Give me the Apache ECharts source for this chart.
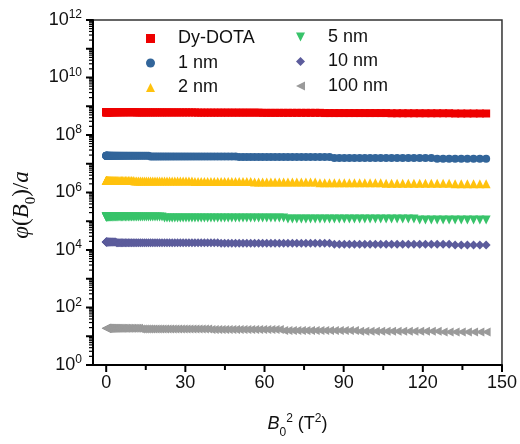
<!DOCTYPE html>
<html>
<head>
<meta charset="utf-8">
<script src="https://cdn.jsdelivr.net/npm/echarts@6/dist/echarts.min.js"></script>
<style>
  html, body { margin: 0; padding: 0; background: #fff; }
  #chart { width: 520px; height: 444px; }
</style>
</head>
<body>
<div id="chart"></div>
<script>
// B0^2 (T^2) sample points, field stepped 0.1 T from 0 to 12 T
const b0Squared = [
  0, 0.01, 0.04, 0.09, 0.16, 0.25, 0.36, 0.49, 0.64, 0.81, 1,
  1.21, 1.44, 1.69, 1.96, 2.25, 2.56, 2.89, 3.24, 3.61, 4, 4.41,
  4.84, 5.29, 5.76, 6.25, 6.76, 7.29, 7.84, 8.41, 9, 9.61, 10.24,
  10.89, 11.56, 12.25, 12.96, 13.69, 14.44, 15.21, 16, 16.81, 17.64,
  18.49, 19.36, 20.25, 21.16, 22.09, 23.04, 24.01, 25, 26.01, 27.04,
  28.09, 29.16, 30.25, 31.36, 32.49, 33.64, 34.81, 36, 37.21, 38.44,
  39.69, 40.96, 42.25, 43.56, 44.89, 46.24, 47.61, 49, 50.41, 51.84,
  53.29, 54.76, 56.25, 57.76, 59.29, 60.84, 62.41, 64, 65.61, 67.24,
  68.89, 70.56, 72.25, 73.96, 75.69, 77.44, 79.21, 81, 82.81, 84.64,
  86.49, 88.36, 90.25, 92.16, 94.09, 96.04, 98.01, 100, 102.01, 104.04,
  106.09, 108.16, 110.25, 112.36, 114.49, 116.64, 118.81, 121, 123.21, 125.44,
  127.69, 129.96, 132.25, 134.56, 136.89, 139.24, 141.61, 144
];

const dyDota = [
  6.2e8, 6.2e8, 6.2e8, 6.2e8, 6.2e8, 6.2e8, 6.2e8, 6.2e8, 6.2e8, 6.2e8, 6.2e8,
  6.2e8, 6.2e8, 6.2e8, 6.2e8, 6.2e8, 6.2e8, 6.2e8, 6.2e8, 6.2e8, 6.2e8, 6.2e8,
  6.2e8, 6.2e8, 6.2e8, 6.2e8, 6.2e8, 6.2e8, 6.2e8, 6.2e8, 6.2e8, 6.2e8, 6.2e8,
  6.2e8, 6.1e8, 6.1e8, 6.1e8, 6.1e8, 6.1e8, 6.1e8, 6.1e8, 6.1e8, 6.1e8, 6.1e8,
  6.1e8, 6.1e8, 6.1e8, 6.1e8, 6.1e8, 6.1e8, 6.1e8, 6.1e8, 6.1e8, 6.1e8, 6.1e8,
  6.1e8, 6.1e8, 6.1e8, 6.1e8, 6.0e8, 6.0e8, 6.0e8, 6.0e8, 6.0e8, 6.0e8, 6.0e8,
  6.0e8, 6.0e8, 6.0e8, 6.0e8, 6.0e8, 6.0e8, 6.0e8, 6.0e8, 6.0e8, 6.0e8, 6.0e8,
  5.9e8, 5.9e8, 5.9e8, 5.9e8, 5.9e8, 5.9e8, 5.9e8, 5.9e8, 5.9e8, 5.9e8, 5.9e8,
  5.9e8, 5.9e8, 5.9e8, 5.8e8, 5.8e8, 5.8e8, 5.8e8, 5.8e8, 5.8e8, 5.8e8, 5.8e8,
  5.8e8, 5.8e8, 5.8e8, 5.8e8, 5.8e8, 5.7e8, 5.7e8, 5.7e8, 5.7e8, 5.7e8, 5.7e8,
  5.7e8, 5.7e8, 5.7e8, 5.7e8, 5.7e8, 5.6e8, 5.6e8, 5.6e8, 5.6e8, 5.6e8, 5.6e8
];

const nm1 = [
  1.9e7, 1.9e7, 1.9e7, 1.9e7, 1.9e7, 1.9e7, 1.9e7, 1.9e7, 1.9e7, 1.9e7, 1.9e7,
  1.9e7, 1.9e7, 1.9e7, 1.9e7, 1.9e7, 1.9e7, 1.9e7, 1.9e7, 1.9e7, 1.9e7, 1.9e7,
  1.9e7, 1.9e7, 1.9e7, 1.9e7, 1.9e7, 1.9e7, 1.9e7, 1.9e7, 1.9e7, 1.9e7, 1.9e7,
  1.9e7, 1.9e7, 1.9e7, 1.9e7, 1.9e7, 1.9e7, 1.9e7, 1.9e7, 1.8e7, 1.8e7, 1.8e7,
  1.8e7, 1.8e7, 1.8e7, 1.8e7, 1.8e7, 1.8e7, 1.8e7, 1.8e7, 1.8e7, 1.8e7, 1.8e7,
  1.8e7, 1.8e7, 1.8e7, 1.8e7, 1.8e7, 1.8e7, 1.8e7, 1.8e7, 1.8e7, 1.8e7, 1.8e7,
  1.8e7, 1.8e7, 1.8e7, 1.8e7, 1.8e7, 1.7e7, 1.7e7, 1.7e7, 1.7e7, 1.7e7, 1.7e7,
  1.7e7, 1.7e7, 1.7e7, 1.7e7, 1.7e7, 1.7e7, 1.7e7, 1.7e7, 1.7e7, 1.7e7, 1.7e7,
  1.7e7, 1.7e7, 1.7e7, 1.7e7, 1.7e7, 1.6e7, 1.6e7, 1.6e7, 1.6e7, 1.6e7, 1.6e7,
  1.6e7, 1.6e7, 1.6e7, 1.6e7, 1.6e7, 1.6e7, 1.6e7, 1.6e7, 1.6e7, 1.6e7, 1.6e7,
  1.6e7, 1.6e7, 1.5e7, 1.5e7, 1.5e7, 1.5e7, 1.5e7, 1.5e7, 1.5e7, 1.5e7, 1.5e7
];

const nm2 = [
  2.6e6, 2.6e6, 2.6e6, 2.6e6, 2.6e6, 2.6e6, 2.6e6, 2.6e6, 2.6e6, 2.6e6, 2.6e6,
  2.6e6, 2.6e6, 2.6e6, 2.6e6, 2.6e6, 2.6e6, 2.6e6, 2.6e6, 2.6e6, 2.6e6, 2.6e6,
  2.6e6, 2.6e6, 2.6e6, 2.6e6, 2.6e6, 2.6e6, 2.6e6, 2.6e6, 2.6e6, 2.6e6, 2.6e6,
  2.5e6, 2.5e6, 2.5e6, 2.5e6, 2.5e6, 2.5e6, 2.5e6, 2.5e6, 2.5e6, 2.5e6, 2.5e6,
  2.5e6, 2.5e6, 2.5e6, 2.5e6, 2.5e6, 2.5e6, 2.5e6, 2.5e6, 2.5e6, 2.5e6, 2.5e6,
  2.5e6, 2.5e6, 2.5e6, 2.4e6, 2.4e6, 2.4e6, 2.4e6, 2.4e6, 2.4e6, 2.4e6, 2.4e6,
  2.4e6, 2.4e6, 2.4e6, 2.4e6, 2.4e6, 2.4e6, 2.4e6, 2.4e6, 2.4e6, 2.3e6, 2.3e6,
  2.3e6, 2.3e6, 2.3e6, 2.3e6, 2.3e6, 2.3e6, 2.3e6, 2.3e6, 2.3e6, 2.3e6, 2.3e6,
  2.3e6, 2.3e6, 2.2e6, 2.2e6, 2.2e6, 2.2e6, 2.2e6, 2.2e6, 2.2e6, 2.2e6, 2.2e6,
  2.2e6, 2.2e6, 2.2e6, 2.2e6, 2.1e6, 2.1e6, 2.1e6, 2.1e6, 2.1e6, 2.1e6, 2.1e6,
  2.1e6, 2.1e6, 2.1e6, 2.1e6, 2.1e6, 2.0e6, 2.0e6, 2.0e6, 2.0e6, 2.0e6, 2.0e6
];

const nm5 = [
  1.4e5, 1.4e5, 1.4e5, 1.4e5, 1.4e5, 1.4e5, 1.4e5, 1.4e5, 1.4e5, 1.4e5, 1.4e5,
  1.4e5, 1.4e5, 1.4e5, 1.4e5, 1.4e5, 1.4e5, 1.4e5, 1.4e5, 1.4e5, 1.4e5, 1.4e5,
  1.4e5, 1.4e5, 1.4e5, 1.4e5, 1.4e5, 1.4e5, 1.4e5, 1.4e5, 1.4e5, 1.4e5, 1.4e5,
  1.4e5, 1.4e5, 1.4e5, 1.4e5, 1.4e5, 1.4e5, 1.4e5, 1.4e5, 1.4e5, 1.4e5, 1.4e5,
  1.4e5, 1.4e5, 1.4e5, 1.3e5, 1.3e5, 1.3e5, 1.3e5, 1.3e5, 1.3e5, 1.3e5, 1.3e5,
  1.3e5, 1.3e5, 1.3e5, 1.3e5, 1.3e5, 1.3e5, 1.3e5, 1.3e5, 1.3e5, 1.3e5, 1.3e5,
  1.3e5, 1.3e5, 1.3e5, 1.3e5, 1.3e5, 1.3e5, 1.3e5, 1.3e5, 1.3e5, 1.3e5, 1.3e5,
  1.3e5, 1.3e5, 1.3e5, 1.3e5, 1.3e5, 1.3e5, 1.2e5, 1.2e5, 1.2e5, 1.2e5, 1.2e5,
  1.2e5, 1.2e5, 1.2e5, 1.2e5, 1.2e5, 1.2e5, 1.2e5, 1.2e5, 1.2e5, 1.2e5, 1.2e5,
  1.2e5, 1.2e5, 1.2e5, 1.2e5, 1.2e5, 1.2e5, 1.2e5, 1.2e5, 1.2e5, 1.2e5, 1.1e5,
  1.1e5, 1.1e5, 1.1e5, 1.1e5, 1.1e5, 1.1e5, 1.1e5, 1.1e5, 1.1e5, 1.1e5, 1.1e5
];

const nm10 = [
  1.9e4, 1.9e4, 1.9e4, 1.9e4, 1.9e4, 1.9e4, 1.9e4, 1.9e4, 1.9e4, 1.9e4, 1.9e4,
  1.9e4, 1.9e4, 1.9e4, 1.9e4, 1.9e4, 1.9e4, 1.9e4, 1.9e4, 1.9e4, 1.8e4, 1.8e4,
  1.8e4, 1.8e4, 1.8e4, 1.8e4, 1.8e4, 1.8e4, 1.8e4, 1.8e4, 1.8e4, 1.8e4, 1.8e4,
  1.8e4, 1.8e4, 1.8e4, 1.8e4, 1.8e4, 1.8e4, 1.8e4, 1.8e4, 1.8e4, 1.8e4, 1.8e4,
  1.8e4, 1.8e4, 1.8e4, 1.8e4, 1.8e4, 1.8e4, 1.8e4, 1.8e4, 1.8e4, 1.8e4, 1.8e4,
  1.8e4, 1.8e4, 1.8e4, 1.8e4, 1.8e4, 1.8e4, 1.8e4, 1.8e4, 1.8e4, 1.8e4, 1.8e4,
  1.7e4, 1.7e4, 1.7e4, 1.7e4, 1.7e4, 1.7e4, 1.7e4, 1.7e4, 1.7e4, 1.7e4, 1.7e4,
  1.7e4, 1.7e4, 1.7e4, 1.7e4, 1.7e4, 1.7e4, 1.7e4, 1.7e4, 1.7e4, 1.7e4, 1.7e4,
  1.7e4, 1.7e4, 1.7e4, 1.7e4, 1.7e4, 1.6e4, 1.6e4, 1.6e4, 1.6e4, 1.6e4, 1.6e4,
  1.6e4, 1.6e4, 1.6e4, 1.6e4, 1.6e4, 1.6e4, 1.6e4, 1.6e4, 1.6e4, 1.6e4, 1.6e4,
  1.6e4, 1.6e4, 1.6e4, 1.6e4, 1.6e4, 1.5e4, 1.5e4, 1.5e4, 1.5e4, 1.5e4, 1.5e4
];

const nm100 = [
  19, 19, 19, 19, 19, 19, 19, 19, 19, 19, 19,
  19, 19, 19, 19, 19, 19, 19, 19, 19, 19, 19,
  19, 19, 19, 19, 19, 19, 19, 19, 19, 19, 19,
  19, 19, 19, 18, 18, 18, 18, 18, 18, 18, 18,
  18, 18, 18, 18, 18, 18, 18, 18, 18, 18, 18,
  18, 18, 18, 18, 18, 18, 18, 18, 17, 17, 17,
  17, 17, 17, 17, 17, 17, 17, 17, 17, 17, 17,
  17, 17, 17, 17, 17, 16, 16, 16, 16, 16, 16,
  16, 16, 16, 16, 16, 16, 16, 16, 16, 16, 15,
  15, 15, 15, 15, 15, 15, 15, 15, 15, 15, 15,
  15, 15, 15, 14, 14, 14, 14, 14, 14, 14, 14
];

// axis ranges, tick labels and tick positions
const X_MIN = -5, X_MAX = 150;
const Y_MIN = 1, Y_MAX = 1e12;
const xTickLabels = [0, 30, 60, 90, 120, 150];
const xMinorTicks = [15, 45, 75, 105, 135];
const yLabelValues = [1, 1e2, 1e4, 1e6, 1e8, 1e10, 1e12];
const yDecades = [1, 1e1, 1e2, 1e3, 1e4, 1e5, 1e6, 1e7, 1e8, 1e9, 1e10, 1e11, 1e12];

// log-scale minor ticks at 2..9 within every decade
const yMinorTicks = [];
for (let d = 0; d < yDecades.length - 1; d++) {
  for (let k = 2; k <= 9; k++) yMinorTicks.push(k * yDecades[d]);
}

// marker outlines: downward and leftward triangles
const TRI_DOWN = 'path://M0,0L10,0L5,10Z';
const TRI_LEFT = 'path://M10,0L10,10L0,5Z';

const seriesDefs = [
  { name: 'Dy-DOTA', values: dyDota, color: '#ee0000', symbol: 'rect', size: 8 },
  { name: '1 nm', values: nm1, color: '#32659a', symbol: 'circle', size: 8 },
  { name: '2 nm', values: nm2, color: '#ffc20e', symbol: 'triangle', size: 9 },
  { name: '5 nm', values: nm5, color: '#38c36a', symbol: TRI_DOWN, size: 9 },
  { name: '10 nm', values: nm10, color: '#5c5c9c', symbol: 'diamond', size: 9 },
  { name: '100 nm', values: nm100, color: '#9a9a9a', symbol: TRI_LEFT, size: 9 }
];

const SANS = '"Liberation Sans", Arial, sans-serif';
const SERIF = '"Liberation Serif", "Times New Roman", serif';

const chart = echarts.init(document.getElementById('chart'), null, { renderer: 'canvas' });

const legendCommon = {
  orient: 'vertical',
  padding: 0,
  itemWidth: 9,
  itemHeight: 9,
  itemGap: 6.5,
  selectedMode: false,
  textStyle: { fontFamily: SANS, fontSize: 18, color: '#111', lineHeight: 18, padding: [0, 0, 0, 18] }
};

chart.setOption({
  animation: false,
  backgroundColor: '#fff',
  grid: {
    left: 93, right: 15, top: 20, bottom: 76,
    show: true, borderColor: '#333', borderWidth: 1.5, backgroundColor: 'transparent'
  },
  legend: [
    Object.assign({ left: 146, top: 29.5, data: ['Dy-DOTA', '1 nm', '2 nm'] }, legendCommon),
    Object.assign({ left: 296, top: 28, data: ['5 nm', '10 nm', '100 nm'] }, legendCommon)
  ],
  xAxis: {
    type: 'value', min: X_MIN, max: X_MAX,
    axisLine: { show: true, onZero: false, lineStyle: { color: '#000', width: 2 } },
    axisTick: { show: false },
    axisLabel: {
      customValues: xTickLabels, margin: 9,
      fontFamily: SANS, fontSize: 18, color: '#111'
    },
    splitLine: { show: false },
    name: '{bi|B}{sub|0}{sup|2}{n| (T}{sup|2}{n|)}',
    nameLocation: 'middle', nameGap: 48,
    nameTextStyle: {
      rich: {
        bi: { fontFamily: SANS, fontStyle: 'italic', fontSize: 18, color: '#111', lineHeight: 22 },
        sub: { fontFamily: SANS, fontSize: 12, color: '#111', verticalAlign: 'bottom', lineHeight: 14, padding: [0, 0, -4, 0] },
        sup: { fontFamily: SANS, fontSize: 12, color: '#111', verticalAlign: 'top', lineHeight: 12 },
        n: { fontFamily: SANS, fontSize: 18, color: '#111', lineHeight: 22 }
      }
    }
  },
  yAxis: {
    type: 'log', logBase: 10, min: Y_MIN, max: Y_MAX,
    axisLine: { show: true, onZero: false, lineStyle: { color: '#000', width: 2 } },
    axisTick: { show: false },
    axisLabel: {
      customValues: yLabelValues, margin: 11,
      formatter: function (v) {
        return '{b|10}{s|' + Math.round(Math.log10(v)) + '}';
      },
      rich: {
        b: { fontFamily: SANS, fontSize: 18, color: '#111', lineHeight: 22 },
        s: { fontFamily: SANS, fontSize: 12, color: '#111', verticalAlign: 'top', lineHeight: 12 }
      }
    },
    splitLine: { show: false },
    minorTick: { show: false }
  },
  series: seriesDefs.map(function (d) {
    return {
      name: d.name,
      type: 'scatter',
      symbol: d.symbol,
      symbolSize: d.size,
      itemStyle: { color: d.color, opacity: 1 },
      data: b0Squared.map(function (x, i) { return [x, d.values[i]]; })
    };
  })
});

// outward axis ticks, positioned through the chart's own axis scales
function tickLine(point, dx, dy, width) {
  const p = chart.convertToPixel({ gridIndex: 0 }, point);
  return {
    type: 'line', silent: true, z: 10,
    shape: { x1: p[0], y1: p[1], x2: p[0] + dx, y2: p[1] + dy },
    style: { stroke: '#000', lineWidth: width }
  };
}

const tickElements = []
  .concat(xTickLabels.map(function (v) { return tickLine([v, Y_MIN], 0, 7, 2); }))
  .concat(xMinorTicks.map(function (v) { return tickLine([v, Y_MIN], 0, 5, 2); }))
  .concat(yDecades.map(function (v) { return tickLine([X_MIN, v], -7, 0, 2); }))
  .concat(yMinorTicks.map(function (v) { return tickLine([X_MIN, v], -4, 0, 1.2); }));

chart.setOption({
  graphic: [
    {
      type: 'text',
      x: 22, y: 205,
      rotation: Math.PI / 2,
      style: {
        text: '{i|φ}{n|(}{i|B}{sub|0}{n|)/}{i|a}',
        align: 'center', verticalAlign: 'middle',
        rich: {
          i: { fontFamily: SERIF, fontStyle: 'italic', fontSize: 23, fill: '#111', lineHeight: 26 },
          n: { fontFamily: SERIF, fontSize: 23, fill: '#111', lineHeight: 26 },
          sub: { fontFamily: SERIF, fontSize: 15, fill: '#111', verticalAlign: 'bottom', lineHeight: 16, padding: [0, 0, -4, 0] }
        }
      }
    }
  ].concat(tickElements)
});
</script>
</body>
</html>
